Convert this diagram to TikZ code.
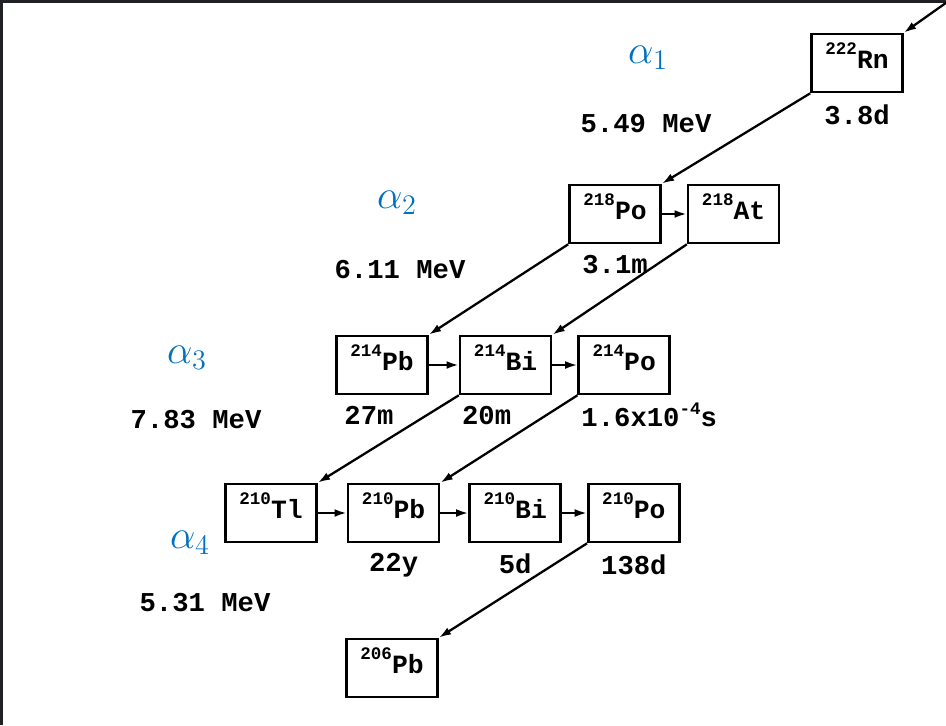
\RequirePackage{fix-cm}
\documentclass[tikz,border=0pt]{standalone}
\usepackage{fontspec}
\setmonofont{Liberation Mono}
\usetikzlibrary{arrows.meta,positioning}
\definecolor{alphablue}{RGB}{0,112,192}
\definecolor{framegray}{RGB}{32,33,36}
\newcommand{\nucl}[2]{\raisebox{8pt}{\fontsize{10}{11}\selectfont#1}#2}

\begin{document}
\begin{tikzpicture}[
  x=0.02cm, y=-0.02cm,
  nuclide/.style={draw, line width=1.5pt, minimum width=1.82cm, minimum height=1.16cm, inner sep=0pt, text height=15pt, text depth=9pt, font=\ttfamily\bfseries\fontsize{15}{16}\selectfont},
  halflife/.style={font=\ttfamily\bfseries\fontsize{15.5}{17}\selectfont},
  energy/.style={font=\ttfamily\bfseries\fontsize{15.5}{17}\selectfont},
  alphalbl/.style={text=alphablue, font=\fontsize{23}{25}\selectfont},
  decay/.style={-{Latex[length=7pt,width=4.5pt]}, line width=1.3pt}
]
\useasboundingbox (0,0) rectangle (946,725);
\fill[framegray] (0,0) rectangle (946,3);
\fill[framegray] (0,0) rectangle (3,725);

% decay chain boxes
\node[nuclide] (rn222) at (857,63) {\nucl{222}{Rn}};
\node[nuclide] (po218) at (615,214) {\nucl{218}{Po}};
\node[nuclide, right=0.5cm of po218] (at218) {\nucl{218}{At}};
\node[nuclide] (pb214) at (382,365) {\nucl{214}{Pb}};
\node[nuclide, right=0.6cm of pb214] (bi214) {\nucl{214}{Bi}};
\node[nuclide, right=0.5cm of bi214] (po214) {\nucl{214}{Po}};
\node[nuclide] (tl210) at (271,513) {\nucl{210}{Tl}};
\node[nuclide, right=0.58cm of tl210] (pb210) {\nucl{210}{Pb}};
\node[nuclide, right=0.56cm of pb210] (bi210) {\nucl{210}{Bi}};
\node[nuclide, right=0.5cm of bi210] (po210) {\nucl{210}{Po}};
\node[nuclide] (pb206) at (392,668) {\nucl{206}{Pb}};

% half-lives
\node[halflife, below=0.1cm of rn222] (t-rn222) {3.8d};
\node[halflife, below=0.1cm of po218] (t-po218) {3.1m};
\node[halflife, below=0.1cm of pb214, xshift=-0.26cm] (t-pb214) {27m};
\node[halflife, below=0.1cm of bi214, xshift=-0.38cm] (t-bi214) {20m};
\node[halflife, below=0.02cm of po214, xshift=0.5cm] (t-po214) {1.6x10\raisebox{7pt}{\fontsize{10}{11}\selectfont-4}s};
\node[halflife, below=0.08cm of pb210] (t-pb210) {22y};
\node[halflife, below=0.08cm of bi210] (t-bi210) {5d};
\node[halflife, below=0.1cm of po210] (t-po210) {138d};

% alpha energies
\node[alphalbl] (a1) at (648,58) {$\alpha_1$};
\node[energy] (e1) at (646,124) {5.49 MeV};
\node[alphalbl] (a2) at (397,203) {$\alpha_2$};
\node[energy] (e2) at (400,270) {6.11 MeV};
\node[alphalbl] (a3) at (187,358) {$\alpha_3$};
\node[energy] (e3) at (196,420) {7.83 MeV};
\node[alphalbl] (a4) at (190,543) {$\alpha_4$};
\node[energy] (e4) at (205,603) {5.31 MeV};

\coordinate (feed) at (950,0);

% connectors
\draw[decay] (feed) -- (rn222.north east);
\draw[decay] (rn222.south west) -- (po218.north east);
\draw[decay] (po218) -- (at218);
\draw[decay] (po218.south west) -- (pb214.north east);
\draw[decay] (at218.south west) -- (bi214.north east);
\draw[decay] (pb214) -- (bi214);
\draw[decay] (bi214) -- (po214);
\draw[decay] (bi214.south west) -- (tl210.north east);
\draw[decay] (po214.south west) -- (pb210.north east);
\draw[decay] (tl210) -- (pb210);
\draw[decay] (pb210) -- (bi210);
\draw[decay] (bi210) -- (po210);
\draw[decay] (po210.south west) -- (pb206.north east);
\end{tikzpicture}
\end{document}
